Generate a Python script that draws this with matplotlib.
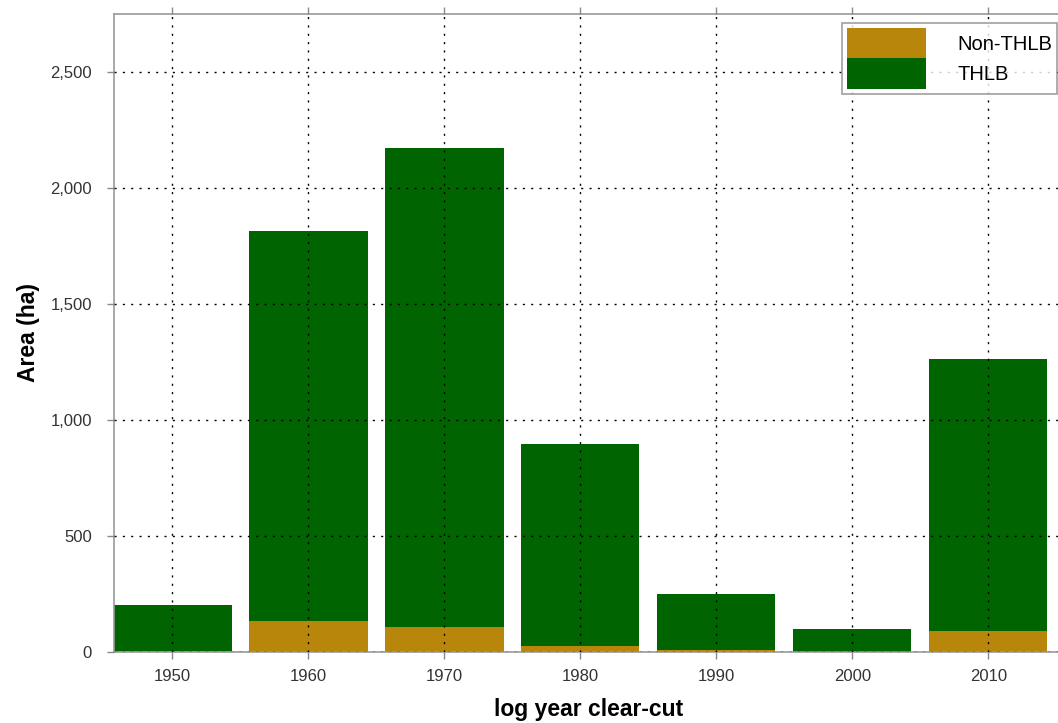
import numpy as np
import matplotlib
matplotlib.use("Agg")
import matplotlib.pyplot as plt
from matplotlib.ticker import FuncFormatter

# area (ha) per decade of clear-cut logging
decades = ["1950", "1960", "1970", "1980", "1990", "2000", "2010"]
non_thlb = [5, 132, 108, 25, 7, 1, 91]
thlb = [196, 1683, 2064, 871, 242, 98, 1172]

plt.rcParams['font.family'] = ['Liberation Sans', 'DejaVu Sans']

W, H, dpi = 1058, 723, 100
fig = plt.figure(figsize=(W / dpi, H / dpi), dpi=dpi)
# axes runs a little past the right edge of the picture (cropped look)
ax = fig.add_axes([114 / W, 71 / H, 949 / W, 638 / H])

x = np.arange(len(decades))
width = 0.87
ax.bar(x, non_thlb, width, color='#B8860B', label='Non-THLB', zorder=2)
ax.bar(x, thlb, width, bottom=non_thlb, color='#006400', label='THLB', zorder=2)

ax.set_xlim(-0.43, 6.55)
ax.set_ylim(0, 2750)
ax.set_xticks(x)
ax.set_xticklabels(decades)
ax.set_yticks([0, 500, 1000, 1500, 2000, 2500])
ax.yaxis.set_major_formatter(FuncFormatter(lambda v, p: '{:,.0f}'.format(v)))

ax.grid(True, linestyle=(0, (1.5, 4.5)), color='black', linewidth=1.0, zorder=0)
ax.set_axisbelow(False)
for s in ax.spines.values():
    s.set_color('#999999')
    s.set_linewidth(1.2)
ax.tick_params(direction='out', length=5, width=1, color='#888888',
               labelsize=12, labelcolor='#333333', top=True, right=True)
ax.tick_params(axis='x', pad=7)
ax.tick_params(axis='y', pad=11)

ax.set_xlabel('log year clear-cut', fontsize=16.5, fontweight='bold', labelpad=10)
ax.set_ylabel('Area (ha)', fontsize=16.5, fontweight='bold', labelpad=7)

leg = ax.legend(loc='upper right', bbox_to_anchor=(1057 / W, (H - 23) / H),
                bbox_transform=fig.transFigure, fontsize=14.5, frameon=True,
                fancybox=False, handlelength=3.9, handleheight=1.95,
                handletextpad=1.55, labelspacing=0.0, borderpad=0.25,
                borderaxespad=0)
leg.get_frame().set_edgecolor('#888888')
leg.get_frame().set_linewidth(1.2)

fig.savefig('out.png', dpi=dpi)
